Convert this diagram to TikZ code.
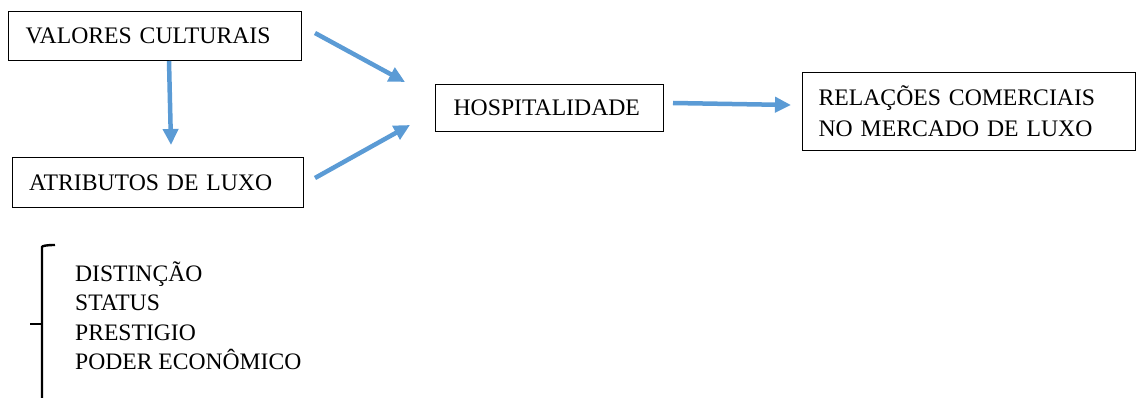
\documentclass[tikz,border=0pt]{standalone}
\usepackage{fontspec}
\setmainfont{Liberation Serif}
\usetikzlibrary{arrows.meta}
\definecolor{arrowblue}{HTML}{5B9BD5}
\begin{document}
\begin{tikzpicture}[x=1pt,y=-1pt,
  box/.style={draw=black,line width=1.2pt,rectangle,anchor=north west,
    font=\fontsize{23.7}{31}\selectfont,align=left,inner ysep=0pt},
  item/.style={anchor=base west,font=\fontsize{23.6}{29}\selectfont,inner sep=0pt},
  flow/.style={draw=arrowblue,line width=4.5pt,
    -{Triangle[width=15pt,length=16pt]}}]
\useasboundingbox (0,0) rectangle (1136,398);

% boxes
\node[box,minimum width=293pt,minimum height=49pt,text width=259pt,inner xsep=17pt]
  (vc) at (8,11) {VALORES CULTURAIS};
\node[box,minimum width=291pt,minimum height=50pt,text width=258pt,inner xsep=16.5pt]
  (al) at (12,157) {ATRIBUTOS DE LUXO};
\node[box,minimum width=228pt,minimum height=47pt,text width=192pt,inner xsep=18pt]
  (ho) at (435,84) {HOSPITALIDADE};
\node[box,minimum width=333pt,minimum height=78pt,text width=301pt,inner xsep=16pt]
  (rc) at (802,72) {RELAÇÕES COMERCIAIS\\NO MERCADO DE LUXO};

% arrow end points
\coordinate (a1s) at (169,61);  \coordinate (a1e) at (171,145);
\coordinate (a2s) at (315,33);  \coordinate (a2e) at (405,82);
\coordinate (a3s) at (315,178); \coordinate (a3e) at (410,125);
\coordinate (a4s) at (673,103); \coordinate (a4e) at (791,105);

\draw[flow] (a1s) -- (a1e);
\draw[flow] (a2s) -- (a2e);
\draw[flow] (a3s) -- (a3e);
\draw[flow] (a4s) -- (a4e);

% brace and its list
\coordinate (bt) at (42,247);
\coordinate (bm) at (42,324);
\coordinate (bb) at (42,400);
\draw[line width=2.4pt,line cap=butt] (55,245) .. controls (46,245) and (42,246) .. (bt) -- (bb);
\draw[line width=2.4pt] (30,324) -- (bm);

\node[item] (l1) at (75,282) {DISTINÇÃO};
\node[item] (l2) at (75,311) {STATUS};
\node[item] (l3) at (75,341) {PRESTIGIO};
\node[item] (l4) at (75,370) {PODER ECONÔMICO};
\end{tikzpicture}
\end{document}
